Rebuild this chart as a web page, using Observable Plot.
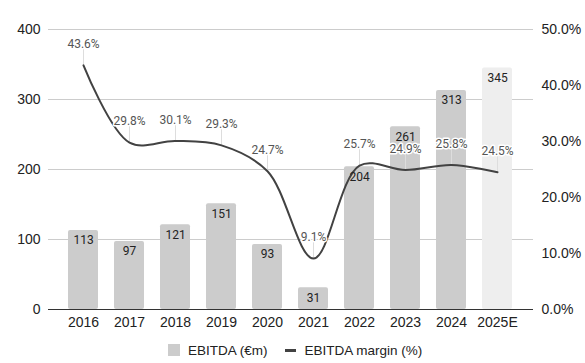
<!DOCTYPE html>
<html>
<head>
<meta charset="utf-8">
<script src="https://cdn.jsdelivr.net/npm/d3@7"></script>
<script src="https://cdn.jsdelivr.net/npm/@observablehq/plot@0.6"></script>
<style>
  body { margin: 0; background: #fff; }
  #legend { height: 26px; padding-top: 4px; padding-left: 168px; display: flex; align-items: center;
            font: 13.5px "Liberation Sans", Arial, sans-serif; color: #222; }
  .sw-bar { width: 12px; height: 12px; background: #cccccc; margin-right: 8px; }
  .sw-line { width: 11px; height: 3px; background: #424242; margin-right: 9px; margin-left: 17px; }
</style>
</head>
<body>
<div id="chart"></div>
<div id="legend"><span class="sw-bar"></span><span>EBITDA (€m)</span><span class="sw-line"></span><span>EBITDA margin (%)</span></div>
<script>
const years = ["2016", "2017", "2018", "2019", "2020", "2021", "2022", "2023", "2024", "2025E"];
const ebitda = [113, 97, 121, 151, 93, 31, 204, 261, 313, 345];
const marginPct = [43.6, 29.8, 30.1, 29.3, 24.7, 9.1, 25.7, 24.9, 25.8, 24.5];
const estimate = [false, false, false, false, false, false, false, false, false, true];
const leftTicks = [0, 100, 200, 300, 400];
const rightTicks = [0, 10, 20, 30, 40, 50];

const k = 400 / 50; // margin % -> left-axis units (0..50% spans 0..400)
const data = years.map((y, i) => ({year: y, ebitda: ebitda[i], m: marginPct[i], est: estimate[i]}));

const chart = Plot.plot({
  width: 585,
  height: 333,
  marginTop: 29,
  marginBottom: 24,
  marginLeft: 48,
  marginRight: 52,
  style: {fontFamily: "'Liberation Sans', Arial, sans-serif", fontSize: "14px", color: "#222", background: "#fff"},
  x: {domain: years, padding: 0.34, label: null},
  y: {domain: [0, 400], label: null},
  color: {type: "identity"},
  marks: [
    Plot.gridY(leftTicks, {stroke: "#cccccc", strokeOpacity: 1}),
    Plot.barY(data, {x: "year", y: "ebitda", fill: d => d.est ? "#eeeeee" : "#cccccc", rx: 2}),
    Plot.ruleY([0], {stroke: "#333", strokeWidth: 1}),
    Plot.ruleX(data, {x: "year", y1: d => d.m * k, y2: d => d.m * k, insetBottom: 16, stroke: "#dddddd", strokeWidth: 1}),
    Plot.line(data, {x: "year", y: d => d.m * k, curve: "catmull-rom", stroke: "#424242", strokeWidth: 2}),
    Plot.text(data, {x: "year", y: "ebitda", text: d => String(d.ebitda), dy: 10, fill: "#222",
      fontSize: 12, fontFamily: "Roboto, sans-serif"}),
    Plot.text(data, {x: "year", y: d => d.m * k, text: d => d.m.toFixed(1) + "%", dy: -21, fill: "#555",
      stroke: "white", strokeWidth: 3, fontSize: 12, fontFamily: "Roboto, sans-serif"}),
    Plot.axisY(leftTicks, {anchor: "left", tickSize: 0, tickPadding: 8, label: null, fontSize: 14, fill: "#222"}),
    Plot.axisY(rightTicks.map(t => t * k), {anchor: "right", tickSize: 0, tickPadding: 8, label: null,
      tickFormat: d => (d / k).toFixed(1) + "%", fontSize: 14, fill: "#222"}),
    Plot.axisX({tickSize: 0, tickPadding: 8, label: null, fontSize: 14, fill: "#222"})
  ]
});
document.getElementById("chart").appendChild(chart);
</script>
</body>
</html>
